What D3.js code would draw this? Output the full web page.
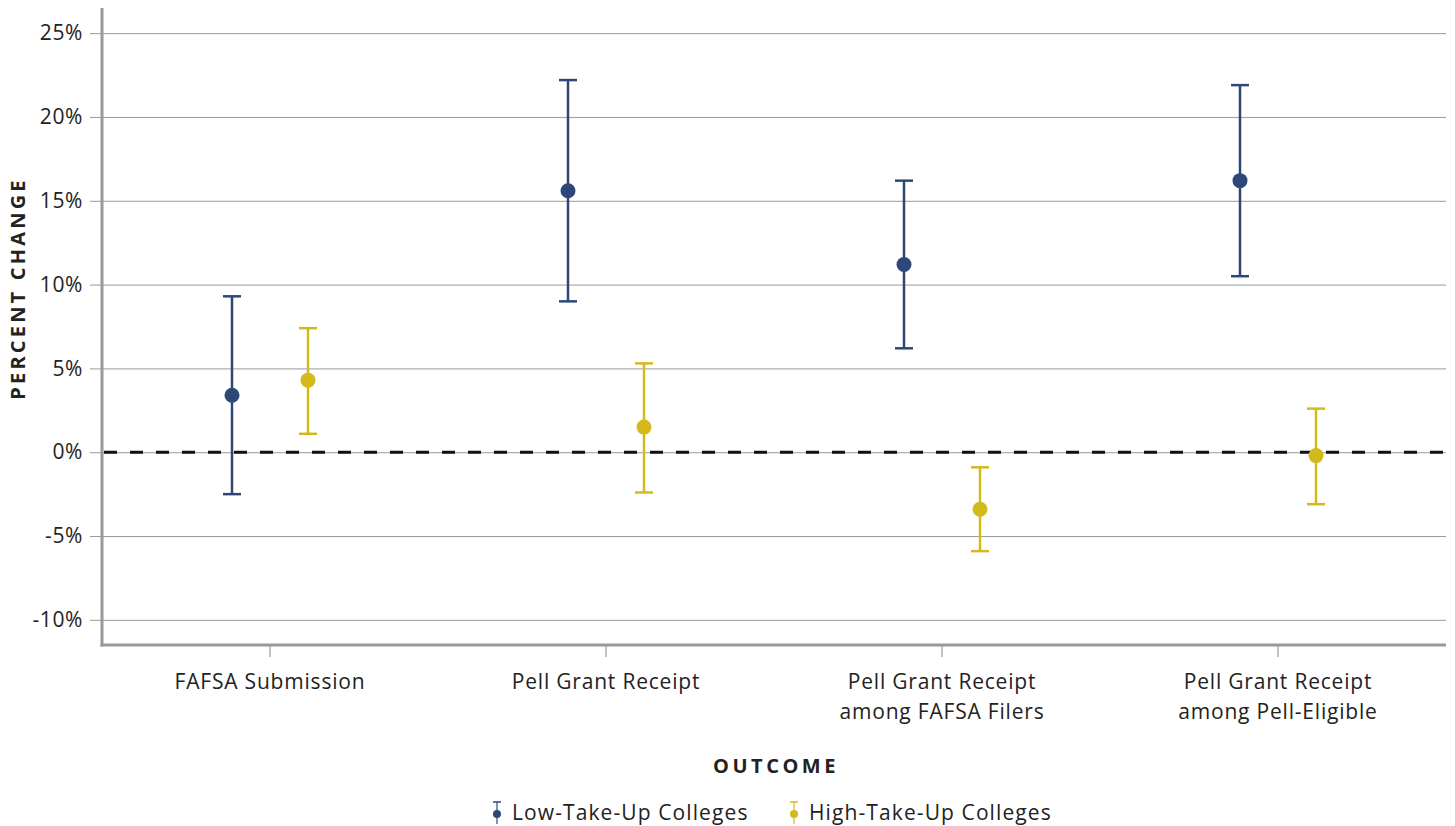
<!DOCTYPE html>
<html>
<head>
<meta charset="utf-8">
<script src="https://cdn.jsdelivr.net/npm/d3@7"></script>
<style>
  body { margin: 0; background: #fff; }
  svg text { font-family: "Open Sans", Lato, sans-serif; fill: #222; }
</style>
</head>
<body>
<svg id="chart"></svg>
<script>
const width = 1455;
const height = 826;

// data
const outcomes = ["FAFSA Submission", "Pell Grant Receipt", "Pell Grant Receipt\namong FAFSA Filers", "Pell Grant Receipt\namong Pell-Eligible"];
const seriesNames = ["Low-Take-Up Colleges", "High-Take-Up Colleges"];
const lowEstimate = [3.4, 15.6, 11.2, 16.2];
const lowLower = [-2.5, 9.0, 6.2, 10.5];
const lowUpper = [9.3, 22.2, 16.2, 21.9];
const highEstimate = [4.3, 1.5, -3.4, -0.2];
const highLower = [1.1, -2.4, -5.9, -3.1];
const highUpper = [7.4, 5.3, -0.9, 2.6];
const yTicks = [-10, -5, 0, 5, 10, 15, 20, 25];
const colors = ["#2d4878", "#d4b91b"];

const margin = {left: 102, right: 9, top: 8, bottom: 181};

const svg = d3.select("#chart")
  .attr("width", width)
  .attr("height", height);

const x = d3.scaleBand()
  .domain(outcomes)
  .range([margin.left, width - margin.right]);

const y = d3.scaleLinear()
  .domain([-11.5, 26.5])
  .range([height - margin.bottom, margin.top]);

const series = [
  {name: seriesNames[0], color: colors[0], offset: -38,
   values: outcomes.map((o, i) => ({o, est: lowEstimate[i], lo: lowLower[i], hi: lowUpper[i]}))},
  {name: seriesNames[1], color: colors[1], offset: 38,
   values: outcomes.map((o, i) => ({o, est: highEstimate[i], lo: highLower[i], hi: highUpper[i]}))}
];

// gridlines + y labels
const yAxis = svg.append("g")
  .attr("transform", `translate(${margin.left},0)`)
  .call(d3.axisLeft(y).tickValues(yTicks).tickFormat(d => d + "%")
    .tickSize(-(width - margin.right - margin.left)).tickSizeOuter(0).tickPadding(20));
yAxis.select(".domain").remove();
yAxis.selectAll(".tick line")
  .attr("x1", -12)
  .attr("stroke", "#9a9a9a")
  .attr("stroke-width", 1);
yAxis.selectAll(".tick text")
  .attr("x", -19)
  .style("font-size", "21px")
  .style("letter-spacing", "0.6px")
  .style("fill", "#222");

// zero line
svg.append("line")
  .attr("x1", margin.left + 2)
  .attr("x2", width - margin.right)
  .attr("y1", y(0))
  .attr("y2", y(0))
  .attr("stroke", "#111")
  .attr("stroke-width", 3)
  .attr("stroke-dasharray", "13,13");

// x axis
const xAxis = svg.append("g")
  .attr("transform", `translate(0,${height - margin.bottom})`)
  .call(d3.axisBottom(x).tickSize(12).tickSizeOuter(0).tickFormat(""));
xAxis.select(".domain").remove();
xAxis.selectAll(".tick line").attr("stroke", "#b0b0b0").attr("stroke-width", 1.5);

outcomes.forEach(o => {
  const lines = o.split("\n");
  const t = svg.append("text")
    .attr("x", x(o) + x.bandwidth() / 2)
    .attr("y", 689)
    .attr("text-anchor", "middle")
    .style("font-size", "21px")
    .style("letter-spacing", "0.8px");
  lines.forEach((l, i) => {
    t.append("tspan")
      .attr("x", x(o) + x.bandwidth() / 2)
      .attr("dy", i === 0 ? 0 : 30)
      .text(l);
  });
});

// axis frame lines
svg.append("line")
  .attr("x1", margin.left).attr("x2", margin.left)
  .attr("y1", margin.top).attr("y2", height - margin.bottom + 1.5)
  .attr("stroke", "#999").attr("stroke-width", 3);
svg.append("line")
  .attr("x1", margin.left - 1.5).attr("x2", width - margin.right)
  .attr("y1", height - margin.bottom).attr("y2", height - margin.bottom)
  .attr("stroke", "#999").attr("stroke-width", 3);

// error bars
const groups = svg.selectAll(".series")
  .data(series)
  .enter()
  .append("g")
  .attr("class", "series");

groups.each(function(s) {
  const g = d3.select(this);
  const cx = d => x(d.o) + x.bandwidth() / 2 + s.offset;
  const bars = g.selectAll(".bar").data(s.values).enter().append("g");
  bars.append("line")
    .attr("x1", cx).attr("x2", cx)
    .attr("y1", d => y(d.lo)).attr("y2", d => y(d.hi))
    .attr("stroke", s.color).attr("stroke-width", 2.5);
  bars.append("line")
    .attr("x1", d => cx(d) - 9).attr("x2", d => cx(d) + 9)
    .attr("y1", d => y(d.hi)).attr("y2", d => y(d.hi))
    .attr("stroke", s.color).attr("stroke-width", 2.5);
  bars.append("line")
    .attr("x1", d => cx(d) - 9).attr("x2", d => cx(d) + 9)
    .attr("y1", d => y(d.lo)).attr("y2", d => y(d.lo))
    .attr("stroke", s.color).attr("stroke-width", 2.5);
  bars.append("circle")
    .attr("cx", cx)
    .attr("cy", d => y(d.est))
    .attr("r", 7.5)
    .attr("fill", s.color);
});

// axis titles
svg.append("text")
  .attr("transform", `translate(25,${(margin.top + height - margin.bottom) / 2 - 38}) rotate(-90)`)
  .attr("text-anchor", "middle")
  .style("font-size", "20px")
  .style("font-weight", "bold")
  .style("letter-spacing", "3.2px")
  .text("PERCENT CHANGE");

svg.append("text")
  .attr("x", (margin.left + width - margin.right) / 2 + 2)
  .attr("y", 773)
  .attr("text-anchor", "middle")
  .style("font-size", "20px")
  .style("font-weight", "bold")
  .style("letter-spacing", "3.5px")
  .text("OUTCOME");

// legend
const legendItems = [{x: 497, s: series[0]}, {x: 794, s: series[1]}];
const legend = svg.append("g");
legendItems.forEach(item => {
  const g = legend.append("g").attr("transform", `translate(${item.x},813)`);
  g.append("line").attr("x1", 0).attr("x2", 0).attr("y1", -11).attr("y2", 11)
    .attr("stroke", item.s.color).attr("stroke-width", 1.2);
  g.append("line").attr("x1", -4).attr("x2", 4).attr("y1", -11).attr("y2", -11)
    .attr("stroke", item.s.color).attr("stroke-width", 1.5);
  g.append("circle").attr("cx", 0).attr("cy", 1).attr("r", 4).attr("fill", item.s.color);
  g.append("text")
    .attr("x", 15)
    .attr("y", 7)
    .style("font-size", "21px")
    .style("letter-spacing", "1.1px")
    .text(item.s.name);
});
</script>
</body>
</html>
